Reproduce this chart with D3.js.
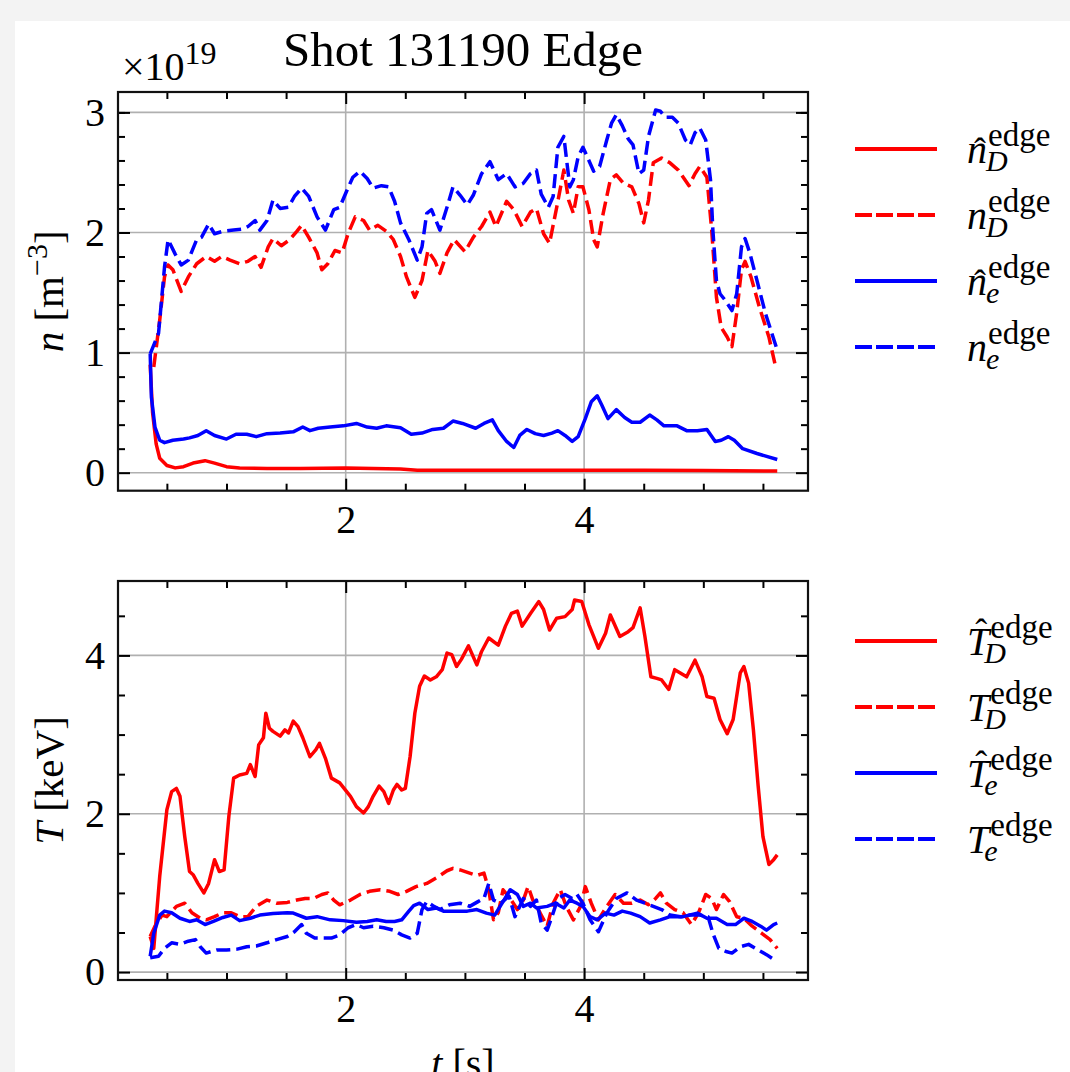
<!DOCTYPE html>
<html>
<head>
<meta charset="utf-8">
<script src="https://cdn.jsdelivr.net/npm/d3@7"></script>
<style>
  html, body { margin: 0; padding: 0; background: #f3f3f3; }
  svg { display: block; }
</style>
</head>
<body>
<svg id="chart" width="1070" height="1072"></svg>
<script>
// ---- Shot 131190 edge profiles: [t (s), value] ----
// densities in units of 1e19 m^-3
const nDHatEdge = [[0.36,0.90],[0.38,0.50],[0.41,0.24],[0.44,0.12],[0.50,0.06],[0.57,0.04],[0.64,0.05],[0.72,0.08],[0.82,0.10],[0.90,0.08],[1.00,0.05],[1.11,0.04],[1.34,0.035],[1.62,0.035],[2.00,0.04],[2.46,0.03],[2.60,0.02],[3.00,0.02],[3.50,0.02],[4.00,0.02],[4.50,0.02],[5.00,0.018],[5.62,0.014]];
const nDEdge = [[0.39,0.88],[0.44,1.27],[0.48,1.63],[0.51,1.73],[0.55,1.69],[0.62,1.51],[0.68,1.63],[0.75,1.74],[0.83,1.80],[0.90,1.76],[0.96,1.80],[1.03,1.77],[1.11,1.74],[1.18,1.76],[1.24,1.80],[1.29,1.71],[1.35,1.88],[1.39,1.95],[1.46,1.89],[1.53,1.94],[1.59,2.01],[1.63,2.06],[1.69,1.96],[1.76,1.83],[1.80,1.69],[1.85,1.74],[1.91,1.85],[1.97,1.83],[2.02,1.99],[2.08,2.13],[2.15,2.10],[2.20,2.02],[2.27,2.06],[2.34,2.01],[2.40,1.94],[2.46,1.80],[2.51,1.63],[2.58,1.46],[2.64,1.60],[2.69,1.85],[2.75,1.76],[2.79,1.66],[2.85,1.83],[2.91,1.94],[3.00,1.84],[3.07,1.96],[3.14,2.05],[3.21,2.17],[3.26,2.05],[3.35,2.26],[3.41,2.19],[3.48,2.05],[3.55,2.17],[3.60,2.20],[3.66,1.99],[3.71,1.91],[3.77,2.21],[3.83,2.52],[3.87,2.27],[3.91,2.16],[3.95,2.38],[3.99,2.38],[4.04,2.19],[4.08,1.94],[4.11,1.88],[4.16,2.16],[4.22,2.44],[4.27,2.48],[4.33,2.41],[4.40,2.38],[4.46,2.24],[4.50,2.08],[4.54,2.27],[4.58,2.58],[4.65,2.62],[4.72,2.58],[4.79,2.52],[4.88,2.39],[4.93,2.49],[4.97,2.55],[5.03,2.46],[5.07,2.02],[5.11,1.46],[5.15,1.21],[5.20,1.13],[5.24,1.05],[5.28,1.33],[5.32,1.69],[5.35,1.76],[5.40,1.63],[5.47,1.38],[5.55,1.13],[5.60,0.91]];
const neHatEdge = [[0.36,0.99],[0.37,0.63],[0.40,0.38],[0.44,0.27],[0.48,0.25],[0.55,0.27],[0.64,0.28],[0.69,0.29],[0.76,0.31],[0.83,0.35],[0.90,0.31],[1.00,0.28],[1.08,0.32],[1.17,0.32],[1.25,0.30],[1.34,0.325],[1.45,0.33],[1.56,0.34],[1.64,0.38],[1.70,0.35],[1.77,0.37],[1.87,0.38],[1.98,0.39],[2.09,0.41],[2.18,0.38],[2.26,0.37],[2.34,0.39],[2.46,0.375],[2.55,0.32],[2.64,0.33],[2.73,0.36],[2.82,0.37],[2.90,0.43],[2.98,0.41],[3.09,0.37],[3.16,0.41],[3.23,0.44],[3.28,0.35],[3.35,0.26],[3.41,0.21],[3.46,0.31],[3.52,0.36],[3.59,0.325],[3.66,0.31],[3.73,0.33],[3.78,0.35],[3.84,0.31],[3.90,0.26],[3.95,0.30],[4.01,0.45],[4.06,0.59],[4.11,0.64],[4.15,0.56],[4.20,0.45],[4.27,0.525],[4.34,0.46],[4.40,0.42],[4.47,0.42],[4.55,0.48],[4.61,0.44],[4.67,0.39],[4.78,0.39],[4.86,0.35],[4.95,0.35],[5.03,0.36],[5.10,0.26],[5.15,0.27],[5.21,0.30],[5.26,0.27],[5.33,0.20],[5.45,0.16],[5.62,0.11]];
const neEdge = [[0.36,0.99],[0.43,1.16],[0.48,1.71],[0.51,1.94],[0.57,1.82],[0.62,1.73],[0.68,1.77],[0.75,1.94],[0.79,1.96],[0.85,2.07],[0.90,1.99],[0.97,2.01],[1.06,2.02],[1.14,2.03],[1.18,2.05],[1.24,2.10],[1.28,2.02],[1.34,2.10],[1.39,2.27],[1.45,2.20],[1.52,2.21],[1.57,2.30],[1.63,2.37],[1.69,2.30],[1.76,2.13],[1.83,2.02],[1.90,2.19],[1.95,2.21],[2.01,2.35],[2.06,2.46],[2.12,2.51],[2.18,2.45],[2.23,2.37],[2.30,2.39],[2.36,2.38],[2.41,2.26],[2.46,2.08],[2.53,1.94],[2.60,1.77],[2.64,1.88],[2.68,2.16],[2.72,2.19],[2.79,2.02],[2.85,2.21],[2.90,2.38],[2.96,2.31],[3.02,2.23],[3.07,2.31],[3.14,2.49],[3.21,2.59],[3.28,2.44],[3.35,2.49],[3.42,2.38],[3.49,2.41],[3.55,2.49],[3.60,2.52],[3.64,2.32],[3.70,2.21],[3.74,2.30],[3.78,2.71],[3.83,2.80],[3.85,2.63],[3.88,2.38],[3.91,2.44],[3.95,2.63],[3.99,2.71],[4.04,2.60],[4.08,2.51],[4.13,2.55],[4.19,2.77],[4.23,2.91],[4.27,2.98],[4.32,2.89],[4.37,2.78],[4.41,2.73],[4.46,2.49],[4.50,2.52],[4.54,2.80],[4.60,3.02],[4.64,3.01],[4.68,2.96],[4.74,2.96],[4.79,2.91],[4.85,2.77],[4.89,2.73],[4.93,2.83],[4.97,2.87],[5.02,2.77],[5.06,2.44],[5.08,2.02],[5.11,1.60],[5.14,1.49],[5.18,1.44],[5.24,1.35],[5.28,1.49],[5.32,1.88],[5.35,1.95],[5.39,1.83],[5.45,1.60],[5.52,1.33],[5.62,1.02]];

// temperatures in keV
const TDHatEdge = [[0.36,0.45],[0.39,0.30],[0.44,1.21],[0.50,2.05],[0.54,2.28],[0.58,2.32],[0.61,2.22],[0.65,1.71],[0.69,1.27],[0.72,1.23],[0.76,1.12],[0.81,1.00],[0.85,1.12],[0.90,1.42],[0.94,1.27],[0.98,1.29],[1.02,1.97],[1.06,2.45],[1.11,2.49],[1.17,2.51],[1.20,2.62],[1.24,2.47],[1.27,2.87],[1.31,2.96],[1.33,3.27],[1.36,3.08],[1.39,3.04],[1.45,2.98],[1.49,3.06],[1.52,3.02],[1.56,3.17],[1.60,3.10],[1.64,2.96],[1.70,2.72],[1.75,2.81],[1.78,2.89],[1.83,2.70],[1.88,2.45],[1.95,2.39],[2.04,2.22],[2.09,2.09],[2.15,2.01],[2.19,2.09],[2.23,2.22],[2.28,2.35],[2.32,2.28],[2.36,2.13],[2.40,2.30],[2.43,2.37],[2.47,2.30],[2.50,2.32],[2.54,2.72],[2.58,3.27],[2.62,3.61],[2.66,3.74],[2.71,3.69],[2.76,3.73],[2.81,3.82],[2.85,4.03],[2.89,4.01],[2.93,3.86],[2.97,3.95],[3.03,4.12],[3.10,3.88],[3.14,4.05],[3.20,4.22],[3.28,4.13],[3.34,4.37],[3.39,4.53],[3.44,4.56],[3.48,4.37],[3.55,4.53],[3.62,4.68],[3.66,4.58],[3.71,4.32],[3.77,4.47],[3.84,4.49],[3.90,4.58],[3.92,4.70],[3.98,4.68],[4.04,4.39],[4.12,4.09],[4.18,4.28],[4.22,4.51],[4.30,4.24],[4.37,4.30],[4.41,4.35],[4.47,4.60],[4.51,4.24],[4.56,3.73],[4.61,3.71],[4.65,3.69],[4.71,3.57],[4.76,3.82],[4.86,3.73],[4.93,3.94],[4.99,3.73],[5.03,3.48],[5.09,3.46],[5.14,3.19],[5.20,3.01],[5.25,3.19],[5.31,3.78],[5.34,3.86],[5.38,3.65],[5.42,3.06],[5.46,2.35],[5.50,1.71],[5.55,1.36],[5.59,1.42],[5.62,1.48]];
const TDEdge = [[0.36,0.45],[0.40,0.58],[0.46,0.72],[0.50,0.70],[0.58,0.83],[0.65,0.87],[0.71,0.75],[0.78,0.68],[0.83,0.66],[0.90,0.70],[0.97,0.75],[1.04,0.75],[1.11,0.70],[1.18,0.70],[1.25,0.83],[1.34,0.91],[1.42,0.87],[1.51,0.88],[1.59,0.91],[1.66,0.93],[1.73,0.93],[1.80,0.98],[1.85,1.00],[1.90,0.91],[1.95,0.85],[2.04,0.91],[2.12,0.98],[2.20,1.02],[2.29,1.04],[2.37,1.02],[2.44,0.98],[2.51,1.02],[2.59,1.08],[2.68,1.12],[2.76,1.19],[2.85,1.28],[2.90,1.31],[2.96,1.29],[3.04,1.25],[3.10,1.22],[3.16,1.25],[3.20,1.04],[3.24,0.66],[3.28,0.75],[3.32,1.04],[3.38,0.93],[3.44,0.79],[3.49,0.91],[3.53,1.08],[3.57,0.91],[3.63,0.75],[3.69,0.58],[3.74,0.87],[3.80,1.04],[3.85,0.83],[3.91,0.66],[3.97,0.83],[4.01,1.08],[4.06,0.87],[4.12,0.66],[4.19,0.83],[4.26,0.98],[4.33,0.87],[4.40,0.87],[4.47,0.91],[4.54,0.85],[4.60,0.93],[4.64,1.00],[4.69,0.87],[4.76,0.79],[4.83,0.75],[4.90,0.60],[4.96,0.75],[5.02,0.98],[5.07,0.93],[5.11,0.79],[5.17,0.98],[5.22,0.89],[5.28,0.70],[5.34,0.68],[5.41,0.58],[5.49,0.49],[5.56,0.41],[5.62,0.30]];
const TeHatEdge = [[0.36,0.20],[0.39,0.49],[0.44,0.72],[0.48,0.77],[0.54,0.75],[0.61,0.68],[0.69,0.64],[0.75,0.66],[0.82,0.60],[0.89,0.64],[0.97,0.69],[1.04,0.72],[1.11,0.65],[1.20,0.68],[1.28,0.72],[1.39,0.74],[1.51,0.75],[1.56,0.745],[1.67,0.68],[1.76,0.70],[1.87,0.66],[1.98,0.65],[2.09,0.63],[2.18,0.64],[2.26,0.66],[2.34,0.64],[2.41,0.64],[2.47,0.66],[2.53,0.77],[2.57,0.84],[2.62,0.87],[2.69,0.79],[2.76,0.81],[2.82,0.77],[2.90,0.77],[3.02,0.77],[3.10,0.79],[3.18,0.745],[3.25,0.72],[3.32,0.89],[3.38,1.04],[3.44,0.98],[3.49,0.83],[3.55,0.87],[3.60,0.81],[3.69,0.83],[3.76,0.87],[3.83,0.81],[3.88,0.91],[3.94,0.87],[3.99,0.83],[4.05,0.70],[4.11,0.66],[4.18,0.745],[4.25,0.72],[4.32,0.77],[4.39,0.745],[4.47,0.70],[4.55,0.62],[4.64,0.66],[4.72,0.70],[4.83,0.70],[4.95,0.745],[5.03,0.68],[5.11,0.68],[5.20,0.60],[5.27,0.60],[5.34,0.68],[5.41,0.64],[5.48,0.58],[5.53,0.53],[5.59,0.60],[5.62,0.62]];
const TeEdge = [[0.36,0.18],[0.43,0.20],[0.48,0.30],[0.54,0.37],[0.61,0.35],[0.68,0.39],[0.74,0.41],[0.78,0.32],[0.83,0.24],[0.92,0.28],[1.00,0.28],[1.09,0.29],[1.17,0.32],[1.25,0.33],[1.34,0.37],[1.42,0.41],[1.51,0.45],[1.57,0.51],[1.63,0.60],[1.67,0.49],[1.74,0.43],[1.81,0.43],[1.88,0.43],[1.95,0.47],[2.02,0.56],[2.09,0.60],[2.15,0.56],[2.23,0.58],[2.32,0.56],[2.40,0.53],[2.47,0.47],[2.54,0.43],[2.60,0.49],[2.64,0.79],[2.68,0.89],[2.74,0.83],[2.79,0.79],[2.87,0.85],[2.96,0.87],[3.04,0.83],[3.11,0.89],[3.16,0.93],[3.20,1.12],[3.24,0.91],[3.30,0.87],[3.37,0.96],[3.42,0.70],[3.49,0.93],[3.55,0.83],[3.60,0.91],[3.64,0.62],[3.69,0.53],[3.73,0.70],[3.78,0.93],[3.84,0.98],[3.90,0.93],[3.94,0.98],[3.99,0.87],[4.05,0.66],[4.12,0.51],[4.19,0.745],[4.27,0.93],[4.36,1.00],[4.44,0.91],[4.51,0.87],[4.58,0.83],[4.65,0.79],[4.72,0.72],[4.81,0.70],[4.89,0.72],[4.97,0.72],[5.04,0.70],[5.08,0.49],[5.13,0.30],[5.19,0.26],[5.24,0.24],[5.31,0.32],[5.38,0.35],[5.46,0.28],[5.53,0.22],[5.59,0.16]];

// ---- axis ticks ----
const tMajorTicks = [2, 4];
const tMinorTicks = [0.5, 1, 1.5, 2.5, 3, 3.5, 4.5, 5, 5.5];
const nMajorTicks = [0, 1, 2, 3];
const nMinorTicks = [0.2, 0.4, 0.6, 0.8, 1.2, 1.4, 1.6, 1.8, 2.2, 2.4, 2.6, 2.8, 3.0];
const TMajorTicks = [0, 2, 4];
const TMinorTicks = [0.5, 1, 1.5, 2.5, 3, 3.5, 4.5];

// ---- legend entries: base symbol, hat, subscript ----
const nLegend = [
  { base: "n", hat: true,  sub: "D", color: "#ff0000", dash: false, data: nDHatEdge },
  { base: "n", hat: false, sub: "D", color: "#ff0000", dash: true,  data: nDEdge },
  { base: "n", hat: true,  sub: "e", color: "#0000ff", dash: false, data: neHatEdge },
  { base: "n", hat: false, sub: "e", color: "#0000ff", dash: true,  data: neEdge }
];
const TLegend = [
  { base: "T", hat: true,  sub: "D", color: "#ff0000", dash: false, data: TDHatEdge },
  { base: "T", hat: false, sub: "D", color: "#ff0000", dash: true,  data: TDEdge },
  { base: "T", hat: true,  sub: "e", color: "#0000ff", dash: false, data: TeHatEdge },
  { base: "T", hat: false, sub: "e", color: "#0000ff", dash: true,  data: TeEdge }
];

const FONT = "'Liberation Serif', 'DejaVu Serif', serif";
const W = 1070, H = 1072;
const svg = d3.select("#chart");

// white figure area on the light-grey page
svg.append("rect").attr("x", 15).attr("y", 21)
  .attr("width", W - 15).attr("height", H - 21).attr("fill", "#ffffff");

const plotLeft = 118, plotRight = 808;
const x = d3.scaleLinear().domain([0.09, 5.878]).range([plotLeft, plotRight]);

const DASH = "14,6";
const LW = 3.5;

function drawPanel(cfg) {
  const y = d3.scaleLinear().domain(cfg.yDomain).range([cfg.bottom, cfg.top]);
  const g = svg.append("g");
  const clipId = "clip" + cfg.id;
  svg.append("clipPath").attr("id", clipId).append("rect")
    .attr("x", plotLeft).attr("y", cfg.top)
    .attr("width", plotRight - plotLeft).attr("height", cfg.bottom - cfg.top);

  // grid
  const grid = g.append("g").attr("stroke", "#b0b0b0").attr("stroke-width", 1.6);
  grid.selectAll("line.gx").data(tMajorTicks).join("line")
    .attr("x1", d => x(d)).attr("x2", d => x(d))
    .attr("y1", cfg.top).attr("y2", cfg.bottom);
  grid.selectAll("line.gy").data(cfg.major).join("line")
    .attr("x1", plotLeft).attr("x2", plotRight)
    .attr("y1", d => y(d)).attr("y2", d => y(d));

  // series
  const line = d3.line().x(d => x(d[0])).y(d => y(d[1]));
  const curves = g.append("g").attr("clip-path", `url(#${clipId})`);
  cfg.series.forEach(s => {
    curves.append("path").attr("d", line(s.data))
      .attr("fill", "none").attr("stroke", s.color).attr("stroke-width", LW)
      .attr("stroke-linejoin", "round").attr("stroke-linecap", "butt")
      .attr("stroke-dasharray", s.dash ? DASH : null);
  });

  // axes: ticks pointing inward on all four sides
  const styleAxis = sel => {
    sel.select(".domain").remove();
    sel.selectAll(".tick line").attr("stroke", "#000").attr("stroke-width", 2);
    sel.selectAll(".tick text").attr("font-family", FONT).attr("font-size", 40).attr("fill", "#000");
    sel.attr("font-family", FONT);
  };
  const majorLen = 12, minorLen = 7;
  g.append("g").attr("transform", `translate(0,${cfg.bottom})`)
    .call(d3.axisBottom(x).tickValues(tMinorTicks).tickSizeInner(-minorLen).tickSizeOuter(0).tickFormat(""))
    .call(styleAxis);
  g.append("g").attr("transform", `translate(0,${cfg.bottom})`)
    .call(d3.axisBottom(x).tickValues(tMajorTicks).tickSizeInner(-majorLen).tickSizeOuter(0).tickPadding(14).tickFormat(d3.format("d")))
    .call(styleAxis);
  g.append("g").attr("transform", `translate(0,${cfg.top})`)
    .call(d3.axisTop(x).tickValues(tMinorTicks).tickSizeInner(-minorLen).tickSizeOuter(0).tickFormat(""))
    .call(styleAxis);
  g.append("g").attr("transform", `translate(0,${cfg.top})`)
    .call(d3.axisTop(x).tickValues(tMajorTicks).tickSizeInner(-majorLen).tickSizeOuter(0).tickFormat(""))
    .call(styleAxis);
  g.append("g").attr("transform", `translate(${plotLeft},0)`)
    .call(d3.axisLeft(y).tickValues(cfg.minor).tickSizeInner(-minorLen).tickSizeOuter(0).tickFormat(""))
    .call(styleAxis);
  g.append("g").attr("transform", `translate(${plotLeft},0)`)
    .call(d3.axisLeft(y).tickValues(cfg.major).tickSizeInner(-majorLen).tickSizeOuter(0).tickPadding(13).tickFormat(d3.format("d")))
    .call(styleAxis);
  g.append("g").attr("transform", `translate(${plotRight},0)`)
    .call(d3.axisRight(y).tickValues(cfg.minor).tickSizeInner(-minorLen).tickSizeOuter(0).tickFormat(""))
    .call(styleAxis);
  g.append("g").attr("transform", `translate(${plotRight},0)`)
    .call(d3.axisRight(y).tickValues(cfg.major).tickSizeInner(-majorLen).tickSizeOuter(0).tickFormat(""))
    .call(styleAxis);

  // frame
  g.append("rect").attr("x", plotLeft).attr("y", cfg.top)
    .attr("width", plotRight - plotLeft).attr("height", cfg.bottom - cfg.top)
    .attr("fill", "none").attr("stroke", "#111").attr("stroke-width", 2.2);

  // y-axis label
  const yl = g.append("text")
    .attr("transform", `translate(63,${(cfg.top + cfg.bottom) / 2}) rotate(-90)`)
    .attr("text-anchor", "middle").attr("font-family", FONT).attr("font-size", 41).attr("fill", "#000");
  cfg.ylabel(yl);

  // legend: sample line plus a stacked symbol  X̂_sub^edge, set as one text element
  const lg = g.append("g");
  cfg.series.forEach((s, i) => {
    const ly = cfg.legendTop + i * cfg.legendStep;
    lg.append("line").attr("x1", 855).attr("x2", 937).attr("y1", ly).attr("y2", ly)
      .attr("stroke", s.color).attr("stroke-width", 4)
      .attr("stroke-dasharray", s.dash ? "17,4" : null);
    const bx = 967, by = ly + 14;
    const isT = s.base === "T";
    const label = lg.append("text").attr("font-family", FONT).attr("fill", "#000");
    const tb = label.append("tspan").attr("x", bx).attr("y", by)
      .attr("font-style", "italic").attr("font-size", 40).text(s.base);
    const bw = tb.node().getComputedTextLength();
    if (s.hat) {
      const th = label.append("tspan").attr("font-size", 36).text("\u02C6");
      const hw = th.node().getComputedTextLength();
      th.attr("x", bx + bw / 2 + 3 - hw / 2).attr("y", by - (isT ? 11 : 0));
    }
    label.append("tspan").attr("x", bx + bw + 1).attr("y", ly - 3)
      .attr("font-size", 33).text("edge");
    label.append("tspan").attr("x", bx + bw - (isT ? 5 : 1)).attr("y", ly + 22)
      .attr("font-style", "italic").attr("font-size", 30).text(s.sub);
  });
}

drawPanel({
  id: "n", top: 92, bottom: 490.7, yDomain: [-0.15, 3.17],
  major: nMajorTicks, minor: nMinorTicks, series: nLegend,
  legendTop: 149, legendStep: 66,
  ylabel: t => {
    t.append("tspan").attr("font-style", "italic").text("n");
    t.append("tspan").text(" [m");
    t.append("tspan").attr("font-size", 30).attr("dy", -16).text("\u22123");
    t.append("tspan").attr("dy", 16).text("]");
  }
});

drawPanel({
  id: "T", top: 581, bottom: 980, yDomain: [-0.1, 4.94],
  major: TMajorTicks, minor: TMinorTicks, series: TLegend,
  legendTop: 641, legendStep: 66,
  ylabel: t => {
    t.append("tspan").attr("font-style", "italic").text("T");
    t.append("tspan").text(" [keV]");
  }
});

// title and multiplier
svg.append("text").attr("x", (plotLeft + plotRight) / 2).attr("y", 66)
  .attr("text-anchor", "middle").attr("font-family", FONT).attr("font-size", 49)
  .attr("fill", "#000").text("Shot 131190 Edge");
const mult = svg.append("text").attr("x", 122).attr("y", 80)
  .attr("font-family", FONT).attr("font-size", 40).attr("fill", "#000");
mult.append("tspan").text("\u00D710");
mult.append("tspan").attr("font-size", 32).attr("dy", -16).text("19");

// x-axis label
const xl = svg.append("text").attr("x", (plotLeft + plotRight) / 2).attr("y", 1077)
  .attr("text-anchor", "middle").attr("font-family", FONT).attr("font-size", 40).attr("fill", "#000");
xl.append("tspan").attr("font-style", "italic").text("t");
xl.append("tspan").text(" [s]");
</script>
</body>
</html>
